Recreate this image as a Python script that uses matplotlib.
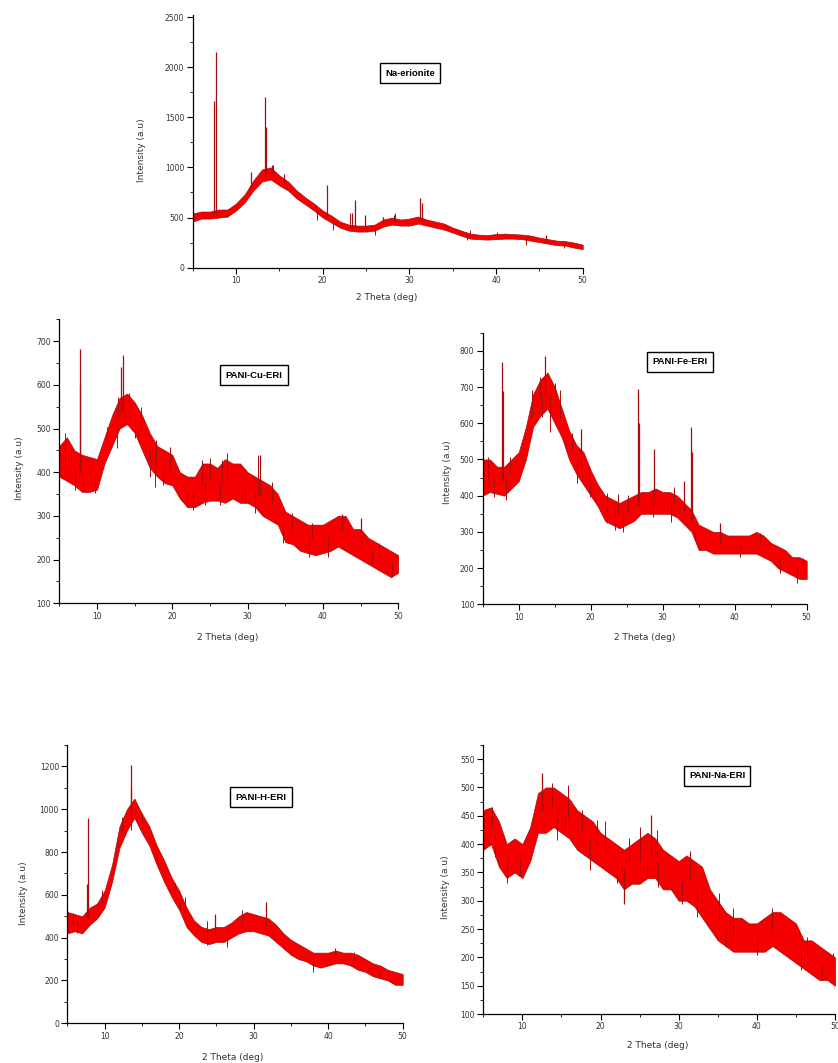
import numpy as np
import matplotlib
matplotlib.use("Agg")
import matplotlib.pyplot as plt
from matplotlib.ticker import MultipleLocator

W, H = 838, 1063

# 2 theta grid (deg) used for every envelope below
theta = np.arange(5, 51)

# Na-erionite: noise band (low / high edge), sharp reflections, stray noise tips
na_lo = [460, 490, 490, 500, 510, 570, 650, 770, 860, 880, 820, 770, 690, 630, 570, 500,
         450, 400, 370, 360, 360, 370, 410, 430, 420, 420, 440, 420, 400, 380, 350, 320,
         290, 285, 280, 285, 290, 290, 285, 270, 255, 240, 225, 220, 200, 185]
na_hi = [540, 560, 560, 580, 580, 640, 730, 870, 980, 1000, 920, 860, 770, 700, 640, 570,
         520, 460, 430, 420, 420, 430, 480, 500, 480, 490, 510, 480, 460, 440, 400, 370,
         340, 330, 325, 335, 340, 335, 330, 320, 300, 285, 270, 265, 250, 230]
na_peak_x = [7.5, 7.7, 11.7, 13.3, 13.5, 14.1, 15.5, 20.5, 23.4, 23.7, 24.9, 26.9, 28.2,
             31.2, 31.4, 36.5, 45.8]
na_peak_y = [1660, 2150, 950, 1700, 1400, 1020, 930, 820, 550, 680, 530, 510, 530,
             700, 650, 360, 330]
na_tip_x = [8.9, 14.3, 19.1, 19.3, 21.2, 23.2, 26.0, 27.0, 28.3, 36.6, 37.0, 40.1, 43.5, 47.8]
na_tip_y = [508, 1022, 624, 475, 375, 541, 325, 508, 541, 276, 375, 359, 226, 193]

# PANI-Cu-ERI
cu_lo = [390, 380, 370, 355, 355, 360, 420, 460, 500, 510, 490, 450, 410, 390, 375, 370,
         340, 320, 320, 330, 335, 335, 330, 340, 330, 330, 320, 300, 290, 280, 240, 235,
         220, 215, 210, 215, 220, 230, 220, 210, 200, 190, 180, 170, 160, 170]
cu_hi = [460, 480, 450, 440, 435, 430, 480, 530, 570, 580, 560, 530, 490, 460, 450, 440,
         400, 390, 390, 420, 420, 410, 430, 420, 420, 400, 390, 380, 370, 350, 310, 300,
         290, 280, 280, 280, 290, 300, 300, 270, 270, 250, 240, 230, 220, 210]
cu_peak_x = [7.7, 7.8, 13.2, 13.4, 31.6, 42.5, 45.0]
cu_peak_y = [600, 682, 640, 668, 440, 305, 295]
cu_tip_x = [5.8, 6.6, 7.1, 8.2, 9.7, 11.3, 12.6, 12.8, 13.7, 14.2, 15.0, 15.9, 17.0, 17.7,
            17.9, 18.8, 19.7, 21.9, 22.8, 23.9, 24.3, 25.0, 26.3, 26.6, 27.2, 29.6, 31.0,
            31.4, 33.2, 34.7, 35.9, 38.1, 38.5, 40.7, 46.5, 47.4, 49.1]
cu_tip_y = [489, 451, 359, 359, 352, 504, 455, 573, 515, 581, 478, 550, 390, 367,
            474, 370, 458, 321, 313, 428, 324, 432, 324, 428, 443, 329, 306,
            439, 378, 237, 306, 207, 283, 207, 192, 237, 161]

# PANI-Fe-ERI
fe_lo = [400, 410, 405, 400, 420, 440, 500, 590, 620, 640, 600, 560, 500, 460, 430, 400,
         370, 330, 320, 310, 320, 330, 350, 350, 350, 350, 350, 340, 320, 300, 250, 250,
         240, 240, 240, 240, 240, 240, 240, 230, 220, 200, 190, 180, 170, 170]
fe_hi = [500, 500, 480, 480, 500, 520, 590, 680, 720, 740, 700, 640, 580, 540, 520, 470,
         430, 400, 390, 380, 390, 400, 410, 410, 420, 410, 410, 400, 380, 360, 320, 310,
         300, 300, 290, 290, 290, 290, 300, 290, 270, 260, 250, 230, 230, 220]
fe_peak_x = [7.7, 7.8, 13.6, 18.7, 26.6, 26.7, 28.8, 32.9, 33.9, 34.0, 38.0]
fe_peak_y = [768, 690, 786, 585, 695, 600, 530, 440, 590, 520, 325]
fe_tip_x = [5.8, 6.5, 8.3, 8.8, 11.8, 13.0, 13.2, 14.3, 15.0, 15.7, 17.4, 18.1, 19.7,
            19.9, 22.2, 22.2, 23.4, 23.8, 24.5, 25.2, 28.7, 31.2, 31.5, 34.5, 40.7,
            43.5, 46.3, 48.6, 49.5]
fe_tip_y = [508, 397, 388, 508, 692, 729, 618, 577, 710, 692, 572, 434, 480,
            397, 406, 324, 305, 404, 300, 402, 342, 328, 425, 278, 231,
            296, 186, 158, 227]

# PANI-H-ERI
h_lo = [420, 430, 420, 460, 490, 540, 660, 820, 900, 960, 890, 830, 740, 660, 590, 530,
        450, 410, 380, 370, 380, 380, 400, 420, 430, 430, 420, 410, 380, 350, 320, 300,
        290, 270, 260, 270, 280, 280, 270, 250, 240, 220, 210, 200, 180, 180]
h_hi = [520, 510, 500, 540, 560, 620, 740, 920, 1000, 1050, 980, 920, 830, 760, 680, 620,
        540, 480, 450, 440, 450, 450, 470, 500, 520, 510, 500, 490, 460, 420, 390, 370,
        350, 330, 330, 330, 340, 330, 330, 320, 300, 280, 270, 250, 240, 230]
h_peak_x = [7.7, 7.8, 13.5, 13.6, 24.8, 31.7]
h_peak_y = [650, 960, 1207, 1100, 510, 565]
h_tip_x = [5.8, 6.3, 9.7, 11.8, 12.3, 13.6, 15.0, 17.0, 19.5, 20.1, 20.8, 23.7, 23.8,
           26.4, 28.4, 32.6, 35.3, 38.0, 40.9, 43.4, 47.0]
h_tip_y = [514, 420, 623, 825, 965, 903, 981, 747, 654, 529, 591, 366, 480,
           358, 529, 405, 358, 241, 350, 334, 218]

# PANI-Na-ERI
nae_lo = [390, 400, 360, 340, 350, 340, 370, 420, 420, 430, 420, 410, 390, 380, 370, 360,
          350, 340, 320, 330, 330, 340, 340, 320, 320, 300, 300, 290, 270, 250, 230, 220,
          210, 210, 210, 210, 210, 220, 210, 200, 190, 180, 170, 160, 160, 150]
nae_hi = [460, 465, 440, 400, 410, 400, 430, 490, 500, 500, 490, 480, 460, 450, 440, 420,
          410, 400, 390, 400, 410, 420, 410, 390, 380, 370, 380, 370, 360, 320, 300, 280,
          270, 270, 260, 260, 270, 280, 280, 270, 260, 230, 230, 220, 210, 200]
nae_peak_x = [12.5, 23.0, 26.5, 50.0]
nae_peak_y = [525, 295, 452, 142]
nae_tip_x = [6.1, 6.5, 8.0, 9.7, 13.8, 14.4, 15.4, 15.9, 17.6, 18.7, 19.5, 20.6, 22.1,
             23.6, 25.1, 25.9, 27.2, 27.4, 30.4, 31.5, 32.3, 35.1, 36.1, 37.0, 40.0,
             41.9, 45.7, 46.4, 48.3, 49.8]
nae_tip_y = [466, 378, 331, 345, 508, 407, 419, 505, 460, 354, 443, 440, 331,
             410, 431, 340, 425, 325, 295, 387, 272, 313, 219, 287, 204,
             287, 178, 236, 160, 207]

panels = [
    # name, lo, hi, peak x, peak y, tip x, tip y, ylim, major, minor
    ("Na-erionite", na_lo, na_hi, na_peak_x, na_peak_y, na_tip_x, na_tip_y, (0, 2520), 500, 250),
    ("PANI-Cu-ERI", cu_lo, cu_hi, cu_peak_x, cu_peak_y, cu_tip_x, cu_tip_y, (100, 750), 100, 50),
    ("PANI-Fe-ERI", fe_lo, fe_hi, fe_peak_x, fe_peak_y, fe_tip_x, fe_tip_y, (100, 850), 100, 50),
    ("PANI-H-ERI", h_lo, h_hi, h_peak_x, h_peak_y, h_tip_x, h_tip_y, (0, 1300), 200, 100),
    ("PANI-Na-ERI", nae_lo, nae_hi, nae_peak_x, nae_peak_y, nae_tip_x, nae_tip_y, (100, 575), 50, 25),
]

# pixel boxes (left, top, right, bottom) of each plot area
boxes = [(192.7, 15, 582.7, 267.7), (59.3, 319.3, 398.3, 603.3), (482.7, 332.7, 806.7, 604.3),
         (67.3, 745, 402.7, 1023.3), (483.3, 745, 835, 1014)]
# title box centres (px) and axis label centres (px)
title_pos = [(410, 73), (254, 375), (680, 362), (261, 797), (717, 776)]
xlab_pos = [(387, 297), (228, 637), (645, 637), (233, 1057), (658, 1045)]
ylab_pos = [(142, 150), (20, 468), (447, 472), (23, 893), (445, 887)]

BAND = "#f40000"
EDGE = "#a80c0c"

fig = plt.figure(figsize=(W / 100, H / 100), dpi=100)

for (name, lo, hi, px, py, tx, ty, ylim, major, minor), (l, t, r, b), tp, xp, yp in zip(
        panels, boxes, title_pos, xlab_pos, ylab_pos):
    ax = fig.add_axes([l / W, 1 - b / H, (r - l) / W, (b - t) / H])
    lo = np.array(lo)
    hi = np.array(hi)
    mid = (lo + hi) / 2
    ax.fill_between(theta, lo, hi, facecolor=BAND, edgecolor=EDGE, linewidth=0.5, zorder=2)
    # stray noise tips above / below the band
    ax.vlines(tx, np.interp(tx, theta, mid), ty, color=EDGE, linewidth=0.7, zorder=3)
    # sharp reflections
    ax.vlines(px, np.interp(px, theta, mid), py, color=EDGE, linewidth=0.9, zorder=3)

    ax.set_xlim(5, 50)
    ax.set_ylim(*ylim)
    for s in ("top", "right"):
        ax.spines[s].set_visible(False)
    for s in ("left", "bottom"):
        ax.spines[s].set_linewidth(0.9)
    ax.xaxis.set_major_locator(MultipleLocator(10))
    ax.xaxis.set_minor_locator(MultipleLocator(5))
    ax.yaxis.set_major_locator(MultipleLocator(major))
    ax.yaxis.set_minor_locator(MultipleLocator(minor))
    ax.tick_params(which="major", direction="out", length=4, width=0.8,
                   labelsize=5.5, labelcolor="#333333", pad=2)
    ax.tick_params(which="minor", direction="out", length=2, width=0.6)
    ax.set_yticks([v for v in ax.get_yticks() if ylim[0] <= v <= ylim[1] - 1])

    # sample name in a framed box
    ax.text((tp[0] - l) / (r - l), (b - tp[1]) / (b - t), name, transform=ax.transAxes,
            ha="center", va="center", fontsize=6.8, fontweight="bold",
            family="Liberation Sans", zorder=5,
            bbox=dict(boxstyle="square,pad=0.55", fc="white", ec="black", lw=1.0))

    fig.text(xp[0] / W, 1 - xp[1] / H, "2 Theta (deg)", ha="center", va="center",
             fontsize=6.5, color="#333333")
    fig.text(yp[0] / W, 1 - yp[1] / H, "Intensity (a.u)", ha="center", va="center",
             fontsize=6.5, rotation=90, color="#333333")

fig.savefig("out.png", dpi=100)
